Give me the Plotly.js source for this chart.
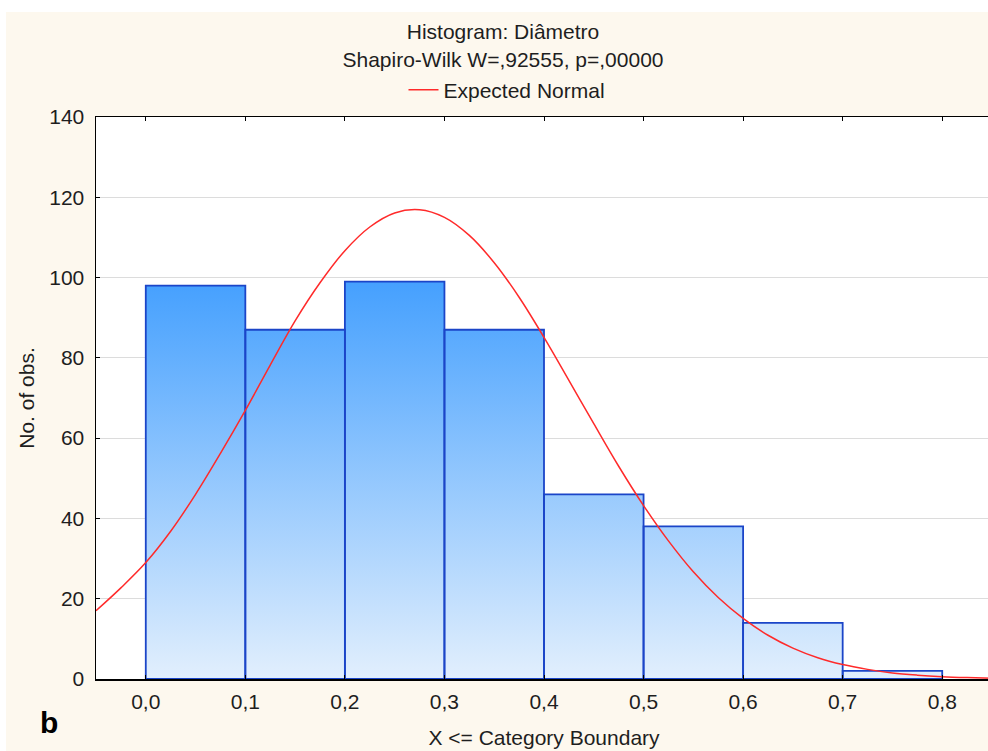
<!DOCTYPE html>
<html>
<head>
<meta charset="utf-8">
<script src="https://cdn.plot.ly/plotly-3.0.1.min.js"></script>
<style>
  html, body { margin: 0; padding: 0; background: #ffffff; overflow: hidden; width: 988px; height: 751px; }
  #chart { position: absolute; left: 6px; top: 12px; width: 994px; height: 739px; }
</style>
</head>
<body>
<div id="chart"></div>
<script>
// Histogram bins (upper boundaries, X <= boundary) and counts
const binEdges = [0.0, 0.1, 0.2, 0.3, 0.4, 0.5, 0.6, 0.7, 0.8];
const counts = [98, 87, 99, 87, 46, 38, 14, 2];

// Expected normal curve
const normalX = [-0.05, -0.025, 0.0, 0.025, 0.05, 0.075, 0.1, 0.125, 0.15, 0.175, 0.2, 0.225, 0.25, 0.275, 0.3, 0.325, 0.35, 0.375, 0.4, 0.425, 0.45, 0.475, 0.5, 0.525, 0.55, 0.575, 0.6, 0.625, 0.65, 0.675, 0.7, 0.725, 0.75, 0.775, 0.8, 0.825, 0.85];
const normalY = [17.0, 22.7, 29.0, 36.8, 46.0, 56.2, 66.9, 78.2, 89.2, 98.7, 106.7, 112.6, 116.1, 116.9, 115.0, 110.5, 103.7, 95.1, 85.1, 74.4, 63.6, 53.0, 43.2, 34.4, 26.7, 20.3, 15.1, 10.9, 7.7, 5.3, 3.6, 2.4, 1.5, 0.96, 0.59, 0.36, 0.21];

const xTickVals = [0.0, 0.1, 0.2, 0.3, 0.4, 0.5, 0.6, 0.7, 0.8];
const yTickVals = [0, 20, 40, 60, 80, 100, 120, 140];

const titleText = 'Histogram: Diâmetro<br>Shapiro-Wilk W=,92555, p=,00000';
const legendName = 'Expected Normal';
const xTitle = 'X <= Category Boundary';
const yTitle = 'No. of obs.';
const panelLabel = '<b>b</b>';

// derived
const binWidth = binEdges[1] - binEdges[0];
const binCenters = binEdges.slice(0, -1).map((e, i) => (e + binEdges[i + 1]) / 2);

// polygon path for gradient fill under bars
const fillX = [], fillY = [];
counts.forEach((c, i) => {
  const x0 = binEdges[i], x1 = binEdges[i + 1];
  fillX.push(x0, x0, x1, x1);
  fillY.push(0, c, c, 0);
});
const maxCount = Math.max(...counts);
const xRange = [-0.05, 0.85];
const yRange = [0, 140];

const FONT = 'Liberation Sans, Arial, sans-serif';
const TXT = '#1e1e1e';

const traces = [
  {
    type: 'scatter', mode: 'lines', x: fillX, y: fillY, xaxis: 'x', yaxis: 'y',
    fill: 'toself',
    fillgradient: { type: 'vertical', start: 0, stop: maxCount,
      colorscale: [[0, '#e2effd'], [1, '#45a0fe']] },
    line: { width: 0, color: 'rgba(0,0,0,0)' },
    showlegend: false, hoverinfo: 'skip'
  },
  {
    type: 'bar', x: binCenters, y: counts, width: binWidth, xaxis: 'x2', yaxis: 'y2',
    marker: { color: 'rgba(0,0,0,0)', line: { color: '#1b45c8', width: 1.8 } },
    showlegend: false
  },
  {
    type: 'scatter', mode: 'lines', x: normalX, y: normalY, name: legendName,
    xaxis: 'x2', yaxis: 'y2',
    line: { color: '#ff2a2a', width: 1.5, shape: 'spline' },
    showlegend: true
  }
];

const layout = {
  width: 994, height: 739,
  margin: { l: 90, r: 8, t: 105, b: 72, pad: 0 },
  paper_bgcolor: '#fdf8ee',
  plot_bgcolor: '#ffffff',
  separators: ',.',
  font: { family: FONT, size: 21, color: TXT },
  title: {
    text: titleText, font: { family: FONT, size: 21, color: TXT },
    xref: 'container', x: 0.5, xanchor: 'center',
    yref: 'container', y: 0.963, yanchor: 'top'
  },
  showlegend: true,
  legend: {
    orientation: 'h', x: 0.4587, xanchor: 'center', y: 1.048, yanchor: 'middle',
    bgcolor: 'rgba(0,0,0,0)', font: { family: FONT, size: 21, color: TXT }
  },
  bargap: 0,
  xaxis: {
    range: xRange, tickvals: xTickVals, tickformat: '.1f',
    showgrid: false, zeroline: false,
    showline: true, linecolor: '#000000', linewidth: 1.5, mirror: 'ticks',
    ticks: 'inside', ticklen: 4, tickcolor: '#000000',
    ticklabelstandoff: 3,
    tickfont: { family: FONT, size: 21, color: TXT },
    title: { text: xTitle, font: { family: FONT, size: 21, color: TXT }, standoff: 18 }
  },
  yaxis: {
    range: yRange, tickvals: yTickVals,
    showgrid: true, gridcolor: '#dcdcdc', gridwidth: 1, zeroline: false,
    showline: true, linecolor: '#000000', linewidth: 1.5,
    ticks: 'inside', ticklen: 4, tickcolor: '#000000',
    ticklabelstandoff: 6,
    tickfont: { family: FONT, size: 21, color: TXT },
    title: { text: yTitle, font: { family: FONT, size: 21, color: TXT }, standoff: 9 }
  },
  xaxis2: {
    overlaying: 'x', range: xRange, showgrid: false, zeroline: false,
    showline: true, linecolor: '#000000', linewidth: 1.5, side: 'bottom',
    showticklabels: false, ticks: ''
  },
  yaxis2: {
    overlaying: 'y', range: yRange, visible: false, showgrid: false, zeroline: false
  },
  annotations: [{
    text: panelLabel, xref: 'paper', yref: 'paper',
    x: -0.0647, y: -0.078, xanchor: 'left', yanchor: 'middle',
    showarrow: false, font: { family: FONT, size: 30, color: '#000000' }
  }]
};

Plotly.newPlot('chart', traces, layout, { displayModeBar: false, staticPlot: true });
</script>
</body>
</html>
